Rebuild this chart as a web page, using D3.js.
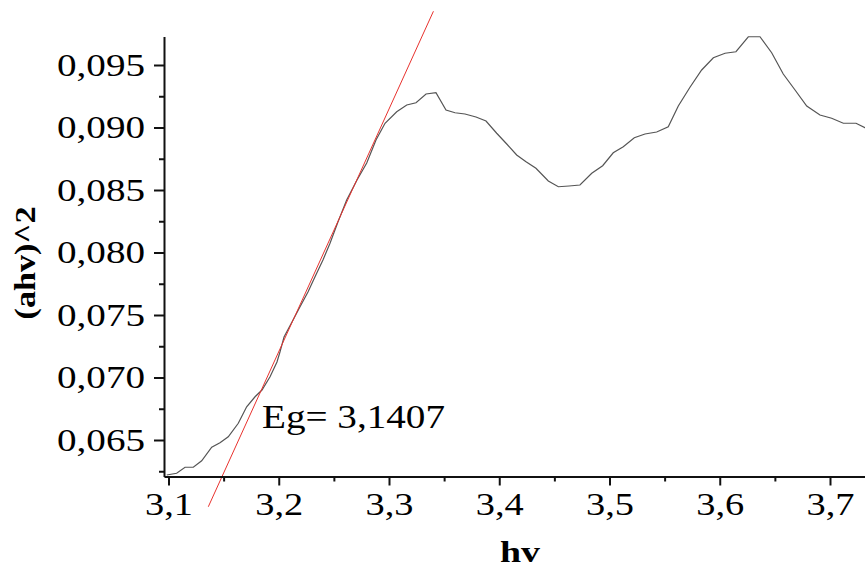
<!DOCTYPE html>
<html>
<head>
<meta charset="utf-8">
<script src="https://cdn.jsdelivr.net/npm/d3@7"></script>
<style>
  body { margin: 0; background: #fff; }
  text { font-family: "Liberation Serif", "Times New Roman", serif; fill: #000; }
</style>
</head>
<body>
<div id="chart"></div>
<script>
let dim = {
  'width': 865,
  'height': 569,
  'left': 164,
  'right': 865,
  'top': 36.5,
  'bottom': 476.5
};

// hv (eV) values of the measured curve
const hv = [3.0984, 3.1074, 3.1150, 3.1225, 3.1301, 3.1392, 3.1467, 3.1542, 3.1633, 3.1709,
  3.1785, 3.1848, 3.1921, 3.1984, 3.2011, 3.2048, 3.2120, 3.2193, 3.2265, 3.2329,
  3.2401, 3.2465, 3.2537, 3.2616, 3.2710, 3.2798, 3.2882, 3.2964, 3.3070, 3.3161,
  3.3245, 3.3336, 3.3426, 3.3517, 3.3599, 3.3689, 3.3789, 3.3880, 3.3977, 3.4068,
  3.4158, 3.4243, 3.4333, 3.4445, 3.4536, 3.4633, 3.4732, 3.4839, 3.4938, 3.5034,
  3.5125, 3.5225, 3.5322, 3.5428, 3.5533, 3.5624, 3.5730, 3.5836, 3.5942, 3.6048,
  3.6147, 3.6259, 3.6365, 3.6471, 3.6576, 3.6683, 3.6789, 3.6909, 3.7015, 3.7121,
  3.7236, 3.7317, 3.7417];

// (ahv)^2 values
const ahv2 = [0.06220, 0.06234, 0.06282, 0.06282, 0.06334, 0.06442, 0.06478, 0.06526, 0.06634, 0.06766,
  0.06846, 0.06900, 0.07006, 0.07124, 0.07204, 0.07324, 0.07444, 0.07566, 0.07684, 0.07806,
  0.07940, 0.08074, 0.08244, 0.08420, 0.08580, 0.08716, 0.08900, 0.09034, 0.09126, 0.09180,
  0.09198, 0.09268, 0.09278, 0.09140, 0.09118, 0.09108, 0.09084, 0.09052, 0.08954, 0.08868,
  0.08780, 0.08726, 0.08674, 0.08572, 0.08526, 0.08532, 0.08540, 0.08634, 0.08694, 0.08798,
  0.08846, 0.08918, 0.08948, 0.08964, 0.09006, 0.09172, 0.09322, 0.09460, 0.09558, 0.09594,
  0.09606, 0.09726, 0.09726, 0.09598, 0.09428, 0.09300, 0.09172, 0.09100, 0.09074, 0.09034,
  0.09034, 0.08998, 0.08964];

// tangent line end points (linear fit)
const fitHv = [3.1361, 3.3403];
const fitY = [0.05966, 0.09930];

const xTicks = [3.1, 3.2, 3.3, 3.4, 3.5, 3.6, 3.7];
const xTickLabels = ['3,1', '3,2', '3,3', '3,4', '3,5', '3,6', '3,7'];
const xMinor = [3.15, 3.25, 3.35, 3.45, 3.55, 3.65];
const yTicks = [0.065, 0.070, 0.075, 0.080, 0.085, 0.090, 0.095];
const yTickLabels = ['0,065', '0,070', '0,075', '0,080', '0,085', '0,090', '0,095'];
const yMinor = [0.0625, 0.0675, 0.0725, 0.0775, 0.0825, 0.0875, 0.0925];

const egLabel = 'Eg= 3,1407';

let svg = d3.select('#chart').append('svg')
  .attr('width', dim.width)
  .attr('height', dim.height);

let scaleX = d3.scaleLinear()
  .domain([3.09592, 3.73175])
  .range([dim.left, dim.right]);

let scaleY = d3.scaleLinear()
  .domain([0.06208, 0.09728])
  .range([dim.bottom, dim.top]);

svg.append('clipPath').attr('id', 'plotClip')
  .append('rect')
  .attr('x', dim.left).attr('y', dim.top - 1)
  .attr('width', dim.right - dim.left).attr('height', dim.bottom - dim.top + 1);

// curve
let points = hv.map((d, i) => [d, ahv2[i]]);
let line = d3.line().x(d => scaleX(d[0])).y(d => scaleY(d[1]));

svg.append('path')
  .datum(points)
  .attr('clip-path', 'url(#plotClip)')
  .attr('d', line)
  .attr('fill', 'none')
  .attr('stroke', '#555')
  .attr('stroke-width', 1.2);

// tangent
svg.append('line')
  .attr('x1', scaleX(fitHv[0])).attr('y1', scaleY(fitY[0]))
  .attr('x2', scaleX(fitHv[1])).attr('y2', scaleY(fitY[1]))
  .attr('stroke', '#e8322e')
  .attr('stroke-width', 1);

// minor ticks
svg.append('g')
  .attr('transform', `translate(0,${dim.bottom})`)
  .call(d3.axisBottom(scaleX).tickValues(xMinor).tickSize(5).tickSizeOuter(0).tickFormat(''))
  .call(g => g.select('.domain').remove());
svg.append('g')
  .attr('transform', `translate(${dim.left},0)`)
  .call(d3.axisLeft(scaleY).tickValues(yMinor).tickSize(5).tickSizeOuter(0).tickFormat(''))
  .call(g => g.select('.domain').remove());

let axisX = svg.append('g')
  .attr('transform', `translate(0,${dim.bottom})`)
  .call(d3.axisBottom(scaleX)
    .tickValues(xTicks)
    .tickSize(9)
    .tickSizeOuter(0)
    .tickPadding(7)
    .tickFormat((d, i) => xTickLabels[i]));

let axisY = svg.append('g')
  .attr('transform', `translate(${dim.left},0)`)
  .call(d3.axisLeft(scaleY)
    .tickValues(yTicks)
    .tickSize(10)
    .tickSizeOuter(0)
    .tickPadding(9)
    .tickFormat((d, i) => yTickLabels[i]));

svg.selectAll('.tick line').attr('stroke', '#111').attr('stroke-width', 2);
svg.selectAll('.domain').attr('stroke', '#111').attr('stroke-width', 2);

axisX.selectAll('text')
  .attr('font-family', '"Liberation Serif", serif')
  .attr('font-size', 32)
  .attr('fill', '#000')
  .attr('textLength', 48)
  .attr('lengthAdjust', 'spacingAndGlyphs');

axisY.selectAll('text')
  .attr('font-family', '"Liberation Serif", serif')
  .attr('font-size', 32)
  .attr('fill', '#000')
  .attr('textLength', 88)
  .attr('lengthAdjust', 'spacingAndGlyphs');

// annotation
svg.append('text')
  .attr('x', 262).attr('y', 428)
  .attr('font-size', 33)
  .attr('textLength', 183)
  .attr('lengthAdjust', 'spacingAndGlyphs')
  .text(egLabel);

// axis titles
svg.append('text')
  .attr('x', 520).attr('y', 562)
  .attr('text-anchor', 'middle')
  .attr('font-size', 29)
  .attr('font-weight', 'bold')
  .attr('textLength', 40)
  .attr('lengthAdjust', 'spacingAndGlyphs')
  .text('hv');

svg.append('text')
  .attr('transform', 'translate(35,263) rotate(-90)')
  .attr('text-anchor', 'middle')
  .attr('font-size', 30)
  .attr('font-weight', 'bold')
  .attr('textLength', 113)
  .attr('lengthAdjust', 'spacingAndGlyphs')
  .text('(ahv)^2');
</script>
</body>
</html>
